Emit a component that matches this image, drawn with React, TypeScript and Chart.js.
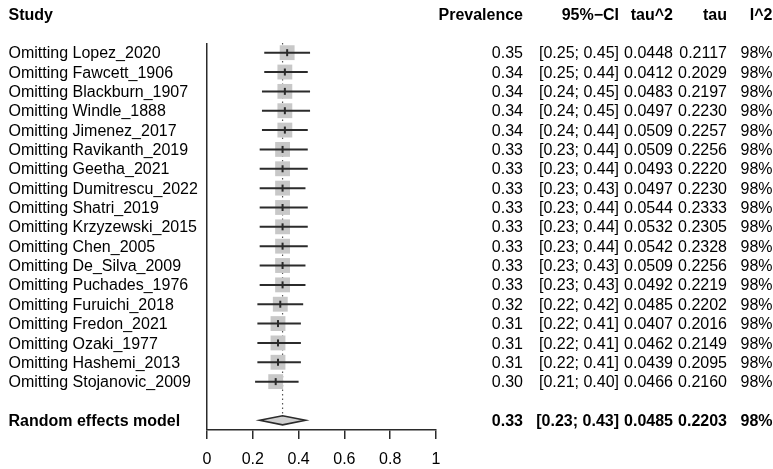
import React, { useEffect, useRef } from "react";
import { Chart, registerables } from "chart.js";

Chart.register(...registerables);

const studies = [
  "Lopez_2020", "Fawcett_1906", "Blackburn_1907", "Windle_1888", "Jimenez_2017",
  "Ravikanth_2019", "Geetha_2021", "Dumitrescu_2022", "Shatri_2019", "Krzyzewski_2015",
  "Chen_2005", "De_Silva_2009", "Puchades_1976", "Furuichi_2018", "Fredon_2021",
  "Ozaki_1977", "Hashemi_2013", "Stojanovic_2009",
];
const prevalence = [0.35, 0.34, 0.34, 0.34, 0.34, 0.33, 0.33, 0.33, 0.33, 0.33, 0.33, 0.33, 0.33, 0.32, 0.31, 0.31, 0.31, 0.30];
const ciLower = [0.25, 0.25, 0.24, 0.24, 0.24, 0.23, 0.23, 0.23, 0.23, 0.23, 0.23, 0.23, 0.23, 0.22, 0.22, 0.22, 0.22, 0.21];
const ciUpper = [0.45, 0.44, 0.45, 0.45, 0.44, 0.44, 0.44, 0.43, 0.44, 0.44, 0.44, 0.43, 0.43, 0.42, 0.41, 0.41, 0.41, 0.40];
const tau2 = [0.0448, 0.0412, 0.0483, 0.0497, 0.0509, 0.0509, 0.0493, 0.0497, 0.0544, 0.0532, 0.0542, 0.0509, 0.0492, 0.0485, 0.0407, 0.0462, 0.0439, 0.0466];
const tau = [0.2117, 0.2029, 0.2197, 0.2230, 0.2257, 0.2256, 0.2220, 0.2230, 0.2333, 0.2305, 0.2328, 0.2256, 0.2219, 0.2202, 0.2016, 0.2149, 0.2095, 0.2160];
const i2 = [98, 98, 98, 98, 98, 98, 98, 98, 98, 98, 98, 98, 98, 98, 98, 98, 98, 98];

const pooledLabel = "Random effects model";
const pooledEst = 0.33;
const pooledLower = 0.23;
const pooledUpper = 0.43;
const pooledTau2 = 0.0485;
const pooledTau = 0.2203;
const pooledI2 = 98;

const headers = ["Study", "Prevalence", "95%\u2212CI", "tau^2", "tau", "I^2"];
const xTicks = [0, 0.2, 0.4, 0.6, 0.8, 1];

const FONT = '"Liberation Sans", Arial, Helvetica, sans-serif';
const LINE = "#2b2b2b";

export default function App() {
  const ref = useRef<HTMLCanvasElement | null>(null);

  useEffect(() => {
    if (!ref.current) return;
    const pooledRow = studies.length + 1;
    const headerRow = -2;
    const colRight = [523, 619, 673, 727, 772.5];

    const forestPlugin = {
      id: "forest",
      beforeDatasetsDraw(chart: any) {
        const { ctx, scales } = chart;
        const x = scales.x, y = scales.y;
        ctx.save();
        ctx.strokeStyle = "#555";
        ctx.lineWidth = 1.2;
        ctx.setLineDash([1.5, 3]);
        const px = x.getPixelForValue(pooledEst);
        ctx.beginPath();
        ctx.moveTo(px, y.getPixelForValue(-0.5));
        ctx.lineTo(px, y.getPixelForValue(pooledRow) - 4.5);
        ctx.stroke();
        ctx.restore();
      },
      afterDatasetsDraw(chart: any) {
        const { ctx, scales } = chart;
        const x = scales.x, y = scales.y;
        ctx.save();
        // CI lines and estimate ticks
        ctx.strokeStyle = LINE;
        for (let i = 0; i < studies.length; i++) {
          const py = y.getPixelForValue(i);
          ctx.lineWidth = 2;
          ctx.beginPath();
          ctx.moveTo(x.getPixelForValue(ciLower[i]), py);
          ctx.lineTo(x.getPixelForValue(ciUpper[i]), py);
          ctx.stroke();
          ctx.lineWidth = 2;
          const pe = x.getPixelForValue(prevalence[i]);
          ctx.beginPath();
          ctx.moveTo(pe, py - 3.5);
          ctx.lineTo(pe, py + 3.5);
          ctx.stroke();
        }
        // diamond
        const dy = y.getPixelForValue(pooledRow);
        ctx.beginPath();
        ctx.moveTo(x.getPixelForValue(pooledLower), dy);
        ctx.lineTo(x.getPixelForValue(pooledEst), dy - 4.5);
        ctx.lineTo(x.getPixelForValue(pooledUpper), dy);
        ctx.lineTo(x.getPixelForValue(pooledEst), dy + 4.5);
        ctx.closePath();
        ctx.fillStyle = "#d0d0d0";
        ctx.fill();
        ctx.lineWidth = 1.6;
        ctx.strokeStyle = LINE;
        ctx.stroke();
        ctx.restore();
      },
      afterDraw(chart: any) {
        const { ctx, scales } = chart;
        const y = scales.y;
        ctx.save();
        ctx.fillStyle = "#000";
        ctx.textBaseline = "alphabetic";
        const base = (row: number) => y.getPixelForValue(row) + 5.6;
        // headers
        ctx.font = `bold 16px ${FONT}`;
        ctx.textAlign = "left";
        ctx.fillText(headers[0], 8.5, base(headerRow));
        ctx.textAlign = "right";
        for (let c = 1; c < headers.length; c++) {
          ctx.fillText(headers[c], colRight[c - 1], base(headerRow));
        }
        // rows
        ctx.font = `16px ${FONT}`;
        for (let i = 0; i < studies.length; i++) {
          const b = base(i);
          ctx.textAlign = "left";
          ctx.fillText("Omitting " + studies[i], 8.5, b);
          ctx.textAlign = "right";
          ctx.fillText(prevalence[i].toFixed(2), colRight[0], b);
          ctx.fillText(`[${ciLower[i].toFixed(2)}; ${ciUpper[i].toFixed(2)}]`, colRight[1], b);
          ctx.fillText(tau2[i].toFixed(4), colRight[2], b);
          ctx.fillText(tau[i].toFixed(4), colRight[3], b);
          ctx.fillText(`${i2[i]}%`, colRight[4], b);
        }
        // pooled
        ctx.font = `bold 16px ${FONT}`;
        const pb = base(pooledRow);
        ctx.textAlign = "left";
        ctx.fillText(pooledLabel, 8.5, pb);
        ctx.textAlign = "right";
        ctx.fillText(pooledEst.toFixed(2), colRight[0], pb);
        ctx.fillText(`[${pooledLower.toFixed(2)}; ${pooledUpper.toFixed(2)}]`, colRight[1], pb);
        ctx.fillText(pooledTau2.toFixed(4), colRight[2], pb);
        ctx.fillText(pooledTau.toFixed(4), colRight[3], pb);
        ctx.fillText(`${pooledI2}%`, colRight[4], pb);
        ctx.restore();
      },
    };

    const chart = new Chart(ref.current, {
      type: "scatter",
      data: {
        datasets: [
          {
            data: studies.map((_, i) => ({ x: prevalence[i], y: i })),
            pointStyle: "rect",
            pointRadius: 10.5,
            pointHoverRadius: 10.5,
            backgroundColor: "#c8c8c8",
            borderWidth: 0,
          },
        ],
      },
      options: {
        animation: false,
        responsive: false,
        maintainAspectRatio: false,
        events: [],
        layout: { padding: { left: 207, right: 337, top: 43, bottom: 0 } },
        plugins: { legend: { display: false }, tooltip: { enabled: false } },
        scales: {
          x: {
            type: "linear",
            min: 0,
            max: 1,
            afterBuildTicks: (s: any) => {
              s.ticks = xTicks.map((v) => ({ value: v }));
            },
            afterFit: (s: any) => {
              s.height = 39;
            },
            grid: {
              drawOnChartArea: true,
              color: (c: any) => (c.tick && c.tick.value === 0 ? LINE : "rgba(0,0,0,0)"),
              tickColor: LINE,
              tickLength: 9,
              lineWidth: 1.5,
            },
            border: { display: true, color: LINE, width: 1.5 },
            ticks: {
              color: "#000",
              padding: 11,
              font: { family: FONT, size: 16 },
              callback: (v: any) => String(Number(v)),
            },
          },
          y: {
            type: "linear",
            display: false,
            reverse: true,
            min: -0.5,
            max: 19.5,
          },
        },
      },
      plugins: [forestPlugin],
    });
    return () => chart.destroy();
  }, []);

  return (
    <div style={{ position: "absolute", left: 0, top: 0, width: 773, height: 469, background: "#fff" }}>
      <canvas ref={ref} width={773} height={469} style={{ display: "block", width: 773, height: 469 }} />
    </div>
  );
}
